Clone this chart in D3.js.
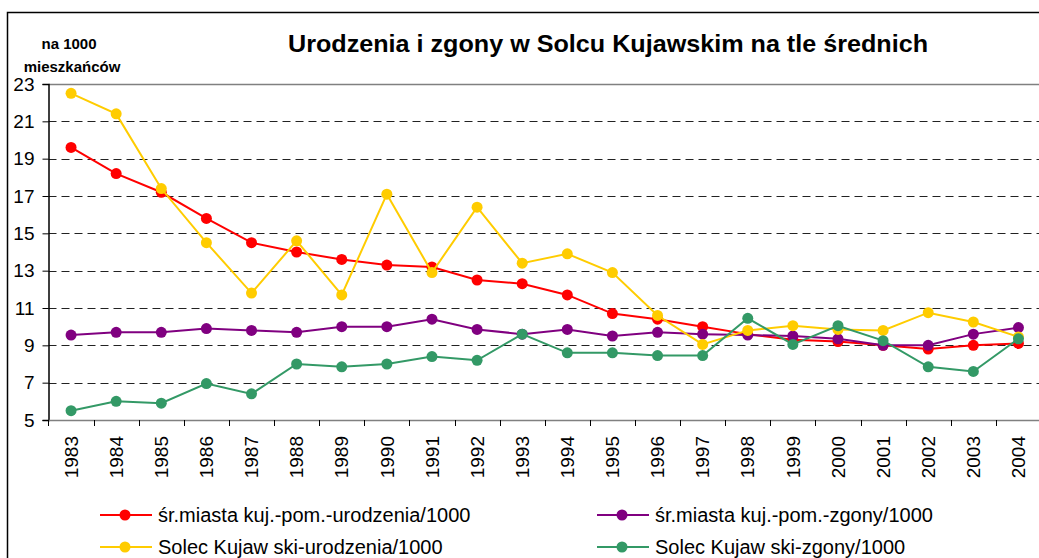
<!DOCTYPE html>
<html>
<head>
<meta charset="utf-8">
<script src="https://cdn.jsdelivr.net/npm/d3@7"></script>
<style>
  body { margin: 0; background: #fff; }
  svg text { font-family: Arial, "Liberation Sans", sans-serif; }
</style>
</head>
<body>
<div id="chart"></div>
<script>
const years = ["1983","1984","1985","1986","1987","1988","1989","1990","1991","1992","1993",
    "1994","1995","1996","1997","1998","1999","2000","2001","2002","2003","2004"];

const avgBirths = [19.6, 18.2, 17.2, 15.8, 14.5, 14.0, 13.6, 13.3, 13.2, 12.5, 12.3,
    11.7, 10.7, 10.4, 10.0, 9.6, 9.3, 9.2, 9.0, 8.8, 9.0, 9.1];
const avgDeaths = [9.55, 9.7, 9.7, 9.9, 9.8, 9.7, 10.0, 10.0, 10.4, 9.85, 9.6,
    9.85, 9.5, 9.7, 9.6, 9.55, 9.5, 9.35, 9.0, 9.0, 9.6, 9.95];
const solecBirths = [22.5, 21.4, 17.4, 14.5, 11.8, 14.6, 11.7, 17.1, 12.9, 16.4, 13.4,
    13.9, 12.9, 10.6, 9.05, 9.8, 10.05, 9.85, 9.8, 10.75, 10.25, 9.45];
const solecDeaths = [5.5, 6.0, 5.9, 6.95, 6.4, 8.0, 7.85, 8.0, 8.4, 8.2, 9.6,
    8.6, 8.6, 8.45, 8.45, 10.45, 9.05, 10.05, 9.25, 7.85, 7.6, 9.35];

const yTicks = [5, 7, 9, 11, 13, 15, 17, 19, 21, 23];

const seriesNames = [
    "śr.miasta kuj.-pom.-urodzenia/1000",
    "śr.miasta kuj.-pom.-zgony/1000",
    "Solec Kujaw ski-urodzenia/1000",
    "Solec Kujaw ski-zgony/1000"
];
const seriesColors = ["#ff0000", "#800080", "#ffcc00", "#339966"];
const seriesValues = [avgBirths, avgDeaths, solecBirths, solecDeaths];

const width = 1039;
const height = 558;
const margin = { left: 48.5, top: 84, right: 1041, bottom: 420 };

const svg = d3.select("#chart")
    .append("svg")
    .attr("width", width)
    .attr("height", height);

// outer chart frame
svg.append("rect")
    .attr("x", 7.5)
    .attr("y", 12.5)
    .attr("width", 1060)
    .attr("height", 600)
    .attr("fill", "none")
    .attr("stroke", "#000")
    .attr("stroke-width", 1.5);

const x = d3.scaleBand()
    .domain(years)
    .range([margin.left, margin.right]);

const y = d3.scaleLinear()
    .domain([5, 23])
    .range([margin.bottom, margin.top]);

// gridlines
svg.append("g")
    .selectAll("line")
    .data(yTicks.filter(t => t > 5 && t < 23))
    .enter()
    .append("line")
    .attr("x1", margin.left)
    .attr("x2", margin.right)
    .attr("y1", d => Math.round(y(d)) + 0.5)
    .attr("y2", d => Math.round(y(d)) + 0.5)
    .attr("stroke", "#222")
    .attr("stroke-dasharray", "8,5");

// top border of plot
svg.append("line")
    .attr("x1", margin.left)
    .attr("x2", margin.right)
    .attr("y1", y(23) + 0.5)
    .attr("y2", y(23) + 0.5)
    .attr("stroke", "#808080")
    .attr("stroke-width", 1.5);

// y axis
const yAxis = svg.append("g")
    .attr("transform", `translate(${margin.left},0)`)
    .call(d3.axisLeft(y).tickValues(yTicks).tickSize(6).tickPadding(8));
yAxis.select(".domain").attr("stroke", "#000").attr("stroke-width", 1.5);
yAxis.selectAll(".tick line").attr("stroke", "#000");
yAxis.selectAll("text")
    .attr("font-size", 19)
    .attr("fill", "#000")
    .attr("font-family", "Arial, 'Liberation Sans', sans-serif");

// x axis
const xAxis = svg.append("g")
    .attr("transform", `translate(0,${margin.bottom})`)
    .call(d3.axisBottom(x).tickSize(0).tickPadding(0));
xAxis.select(".domain").attr("stroke", "#808080").attr("stroke-width", 1.5);
xAxis.selectAll("text")
    .attr("font-size", 19)
    .attr("fill", "#000")
    .attr("font-family", "Arial, 'Liberation Sans', sans-serif")
    .attr("transform", "rotate(-90)")
    .attr("text-anchor", "end")
    .attr("dy", "0.35em")
    .attr("x", -16)
    .attr("y", 0);

// tick marks at band edges
svg.append("g")
    .selectAll("line")
    .data(years)
    .enter()
    .append("line")
    .attr("x1", d => Math.round(x(d)) + 0.5)
    .attr("x2", d => Math.round(x(d)) + 0.5)
    .attr("y1", margin.bottom)
    .attr("y2", margin.bottom + 6)
    .attr("stroke", "#000");

// series
const line = d3.line()
    .x((d, i) => x(years[i]) + x.bandwidth() / 2)
    .y(d => y(d));

seriesValues.forEach((vals, k) => {
    const g = svg.append("g");
    g.append("path")
        .datum(vals)
        .attr("d", line)
        .attr("fill", "none")
        .attr("stroke", seriesColors[k])
        .attr("stroke-width", 2);
    g.selectAll("circle")
        .data(vals)
        .enter()
        .append("circle")
        .attr("cx", (d, i) => x(years[i]) + x.bandwidth() / 2)
        .attr("cy", d => y(d))
        .attr("r", 5.5)
        .attr("fill", seriesColors[k]);
});

// title
svg.append("text")
    .attr("x", 608)
    .attr("y", 52)
    .attr("text-anchor", "middle")
    .attr("font-size", 24)
    .attr("font-weight", "bold")
    .attr("textLength", 640)
    .attr("lengthAdjust", "spacingAndGlyphs")
    .text("Urodzenia i zgony w Solcu Kujawskim na tle średnich");

// y label
svg.append("text")
    .attr("x", 69)
    .attr("y", 49)
    .attr("text-anchor", "middle")
    .attr("font-size", 15)
    .attr("font-weight", "bold")
    .text("na 1000");
svg.append("text")
    .attr("x", 72)
    .attr("y", 72)
    .attr("text-anchor", "middle")
    .attr("font-size", 15)
    .attr("font-weight", "bold")
    .text("mieszkańców");

// legend
const legendPos = [[100, 515], [597, 515], [100, 547], [597, 547]];
seriesNames.forEach((name, k) => {
    const [lx, ly] = legendPos[k];
    const g = svg.append("g").attr("transform", `translate(${lx},${ly})`);
    g.append("line")
        .attr("x1", 0).attr("x2", 52)
        .attr("stroke", seriesColors[k])
        .attr("stroke-width", 2);
    g.append("circle")
        .attr("cx", 25)
        .attr("r", 5.5)
        .attr("fill", seriesColors[k]);
    g.append("text")
        .attr("x", 58)
        .attr("dy", "0.35em")
        .attr("font-size", 20)
        .text(name);
});
</script>
</body>
</html>
